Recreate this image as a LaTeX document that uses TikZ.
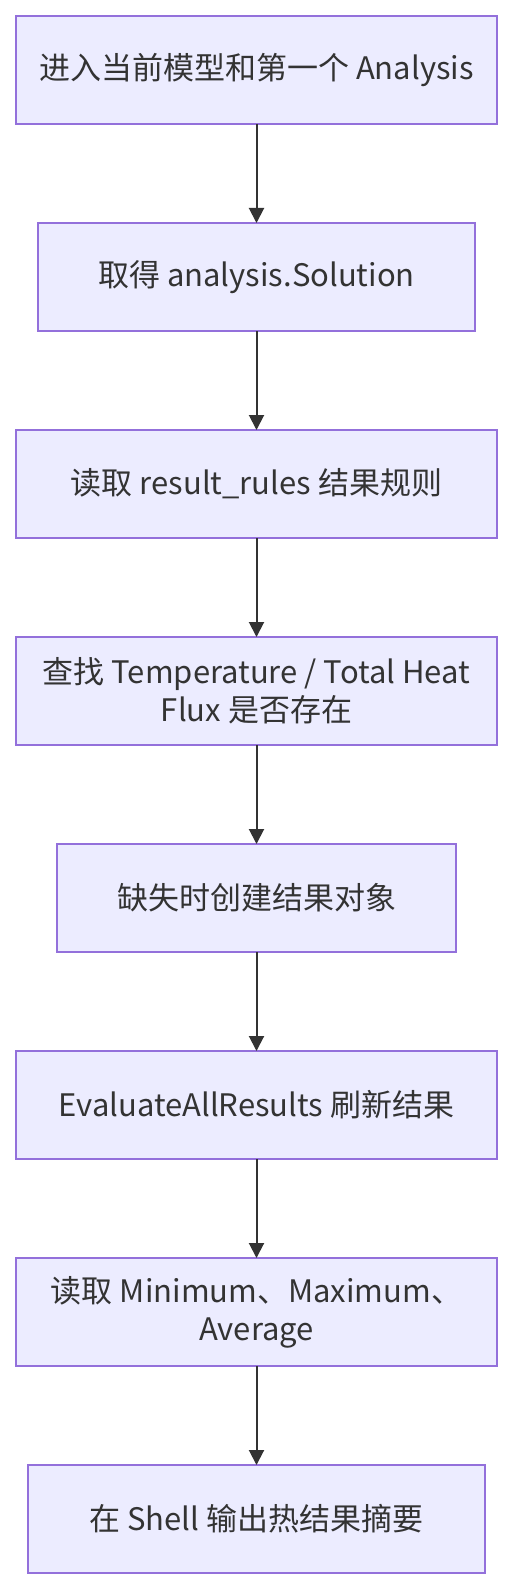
\documentclass[tikz,border=0pt]{standalone}
\usepackage{fontspec}
\setmainfont{Noto Sans CJK SC}
\usepackage{tikz}
\usetikzlibrary{positioning,arrows.meta}
\definecolor{boxfill}{HTML}{ECECFF}
\definecolor{boxline}{HTML}{9370DB}
\definecolor{inktext}{HTML}{333333}

\begin{document}
\begin{tikzpicture}[
    stepbox/.style={draw=boxline, fill=boxfill, line width=0.6pt, text=inktext,
      minimum height=54pt, align=center, inner sep=0pt, outer sep=0pt,
      font=\fontsize{15.5}{19}\selectfont},
    flow/.style={draw=inktext, line width=1pt,
      -{Triangle[width=7.5pt,length=7.5pt]}},
    node distance=49.5pt
  ]
    \useasboundingbox (0,0) rectangle (256pt,-794.5pt);
    % Steps
    \node [stepbox, minimum width=240.5pt] (enter) at (128.25pt,-35pt)
      {进入当前模型和第一个 Analysis};
    \node [stepbox, minimum width=218.5pt, below=of enter] (solution)
      {取得 analysis.Solution};
    \node [stepbox, minimum width=240.5pt, below=of solution] (rules)
      {读取 result\_rules 结果规则};
    \node [stepbox, minimum width=240.5pt, below=of rules] (lookup)
      {查找 Temperature / Total Heat\\Flux 是否存在};
    \node [stepbox, minimum width=199.5pt, below=of lookup] (create)
      {缺失时创建结果对象};
    \node [stepbox, minimum width=240.5pt, below=of create] (evaluate)
      {EvaluateAllResults 刷新结果};
    \node [stepbox, minimum width=240.5pt, below=of evaluate] (values)
      {读取 Minimum、Maximum、\\Average};
    \node [stepbox, minimum width=228.5pt, below=of values] (summary)
      {在 Shell 输出热结果摘要};
    % Connectors
    \draw [flow] (enter) -- (solution);
    \draw [flow] (solution) -- (rules);
    \draw [flow] (rules) -- (lookup);
    \draw [flow] (lookup) -- (create);
    \draw [flow] (create) -- (evaluate);
    \draw [flow] (evaluate) -- (values);
    \draw [flow] (values) -- (summary);
\end{tikzpicture}
\end{document}
